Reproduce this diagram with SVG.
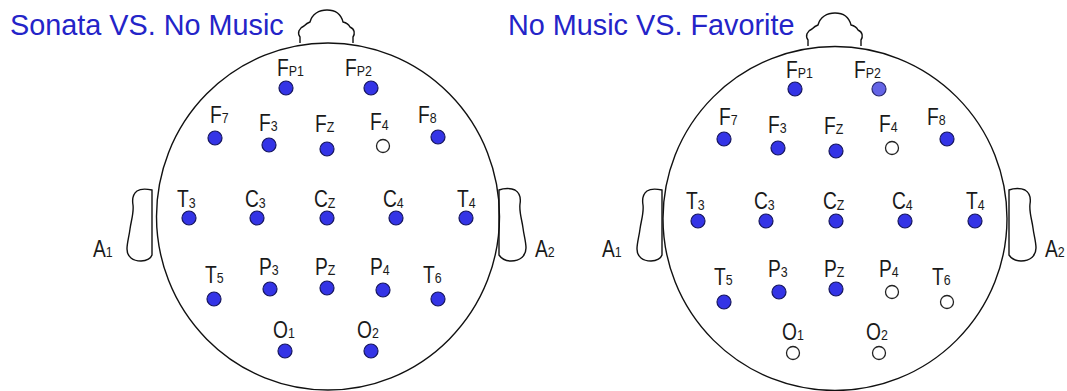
<svg xmlns="http://www.w3.org/2000/svg" width="1067" height="391" viewBox="0 0 1067 391">
<style>
.title{font-family:"Liberation Sans",Arial,sans-serif;font-size:28.8px;fill:#2424c8}
.head{fill:none;stroke:#111;stroke-width:1.4}
.lb{font-family:"Liberation Sans",Arial,sans-serif;font-size:24px;fill:#1a1a1a}
.sub{font-size:15.5px}
.on{fill:#3434e6;stroke:#16165e;stroke-width:1.2}
.lt{fill:#6464e6;stroke:#2a2a70;stroke-width:1.2}
.off{fill:#fff;stroke:#222;stroke-width:1.3}
</style>
<defs>
<path id="nose" class="head" d="M0,33 L0,27 C-3,23 -1,18 4,16 C6,14 7,13 10,12 C12,4 19,0 27,0 C35,0 41,4 43,12 C47,13 49,15 50,17 C55,19 55,24 53,27 L53,33"/>
<path id="earL" class="head" d="M25,0 C20,-1 13,-1 10,1 C6,4 5,9 6,15 C7,23 4,31 3,39 C2,47 0,53 0,59 C0,67 6,71 14,71 C20,71 24,68 25,65 Z"/>
<path id="earR" class="head" d="M0,0 C5,-2 12,-2 16,0 C21,3 22,8 21,14 C20,22 23,30 24,38 C25,46 27,52 27,58 C27,66 21,71 12,71 C6,71 2,68 0,65 Z"/>
</defs>

<text id="title-left" class="title" x="10" y="35">Sonata VS. No Music</text>
<text id="title-right" class="title" x="508" y="35">No Music VS. Favorite</text>

<g id="head-left">
<ellipse class="head" cx="328" cy="216.5" rx="171.5" ry="173.5"/>
<use href="#nose" x="300" y="10"/>
<use href="#earL" x="127" y="190"/>
<use href="#earR" x="499" y="190"/>
<text class="lb" transform="translate(93,257) scale(0.8,1)">A<tspan class="sub">1</tspan></text>
<text class="lb" transform="translate(535,257) scale(0.8,1)">A<tspan class="sub">2</tspan></text>
</g>

<g id="head-right">
<circle class="head" cx="835" cy="218.5" r="172"/>
<use href="#nose" x="808" y="13"/>
<use href="#earL" x="637" y="190"/>
<use href="#earR" x="1009" y="190"/>
<text class="lb" transform="translate(602,257) scale(0.8,1)">A<tspan class="sub">1</tspan></text>
<text class="lb" transform="translate(1045,257) scale(0.8,1)">A<tspan class="sub">2</tspan></text>
</g>

<g id="connectors"></g>

<g id="left-electrodes">
<g id="L-Fp1"><text class="lb" transform="translate(277,76) scale(0.8,1)">F<tspan class="sub">P1</tspan></text><circle class="on" cx="286" cy="88" r="7"/></g>
<g id="L-Fp2"><text class="lb" transform="translate(345,76) scale(0.8,1)">F<tspan class="sub">P2</tspan></text><circle class="on" cx="371" cy="88" r="7"/></g>
<g id="L-F7"><text class="lb" transform="translate(210,123) scale(0.8,1)">F<tspan class="sub">7</tspan></text><circle class="on" cx="215" cy="138" r="7"/></g>
<g id="L-F3"><text class="lb" transform="translate(259,131) scale(0.8,1)">F<tspan class="sub">3</tspan></text><circle class="on" cx="269" cy="145" r="7"/></g>
<g id="L-Fz"><text class="lb" transform="translate(315,132) scale(0.8,1)">F<tspan class="sub">Z</tspan></text><circle class="on" cx="327" cy="149" r="7"/></g>
<g id="L-F4"><text class="lb" transform="translate(370,130) scale(0.8,1)">F<tspan class="sub">4</tspan></text><circle class="off" cx="383" cy="146" r="6.5"/></g>
<g id="L-F8"><text class="lb" transform="translate(418,123) scale(0.8,1)">F<tspan class="sub">8</tspan></text><circle class="on" cx="438" cy="137" r="7"/></g>
<g id="L-T3"><text class="lb" transform="translate(177,207) scale(0.8,1)">T<tspan class="sub" dy="1">3</tspan></text><circle class="on" cx="189" cy="218" r="7"/></g>
<g id="L-C3"><text class="lb" transform="translate(245,207) scale(0.8,1)">C<tspan class="sub" dy="1">3</tspan></text><circle class="on" cx="257" cy="218" r="7"/></g>
<g id="L-Cz"><text class="lb" transform="translate(314,207) scale(0.8,1)">C<tspan class="sub" dy="1">Z</tspan></text><circle class="on" cx="327" cy="218" r="7"/></g>
<g id="L-C4"><text class="lb" transform="translate(383,207) scale(0.8,1)">C<tspan class="sub" dy="1">4</tspan></text><circle class="on" cx="396" cy="218" r="7"/></g>
<g id="L-T4"><text class="lb" transform="translate(457,207) scale(0.8,1)">T<tspan class="sub" dy="1">4</tspan></text><circle class="on" cx="466" cy="218" r="7"/></g>
<g id="L-T5"><text class="lb" transform="translate(205,283) scale(0.8,1)">T<tspan class="sub">5</tspan></text><circle class="on" cx="214" cy="299" r="7"/></g>
<g id="L-P3"><text class="lb" transform="translate(259,275) scale(0.8,1)">P<tspan class="sub">3</tspan></text><circle class="on" cx="270" cy="289" r="7"/></g>
<g id="L-Pz"><text class="lb" transform="translate(315,275) scale(0.8,1)">P<tspan class="sub">Z</tspan></text><circle class="on" cx="327" cy="288" r="7"/></g>
<g id="L-P4"><text class="lb" transform="translate(370,275) scale(0.8,1)">P<tspan class="sub">4</tspan></text><circle class="on" cx="383" cy="290" r="7"/></g>
<g id="L-T6"><text class="lb" transform="translate(423,283) scale(0.8,1)">T<tspan class="sub">6</tspan></text><circle class="on" cx="438" cy="299" r="7"/></g>
<g id="L-O1"><text class="lb" transform="translate(273,338) scale(0.8,1)">O<tspan class="sub">1</tspan></text><circle class="on" cx="285" cy="351" r="7"/></g>
<g id="L-O2"><text class="lb" transform="translate(357,338) scale(0.8,1)">O<tspan class="sub">2</tspan></text><circle class="on" cx="371" cy="351" r="7"/></g>
</g>

<g id="right-electrodes">
<g id="R-Fp1"><text class="lb" transform="translate(786,78) scale(0.8,1)">F<tspan class="sub">P1</tspan></text><circle class="on" cx="795" cy="89" r="7"/></g>
<g id="R-Fp2"><text class="lb" transform="translate(854,78) scale(0.8,1)">F<tspan class="sub">P2</tspan></text><circle class="lt" cx="879" cy="89" r="7"/></g>
<g id="R-F7"><text class="lb" transform="translate(719,125) scale(0.8,1)">F<tspan class="sub">7</tspan></text><circle class="on" cx="724" cy="139" r="7"/></g>
<g id="R-F3"><text class="lb" transform="translate(768,133) scale(0.8,1)">F<tspan class="sub">3</tspan></text><circle class="on" cx="778" cy="148" r="7"/></g>
<g id="R-Fz"><text class="lb" transform="translate(824,134) scale(0.8,1)">F<tspan class="sub">Z</tspan></text><circle class="on" cx="836" cy="151" r="7"/></g>
<g id="R-F4"><text class="lb" transform="translate(879,132) scale(0.8,1)">F<tspan class="sub">4</tspan></text><circle class="off" cx="892" cy="148" r="6.5"/></g>
<g id="R-F8"><text class="lb" transform="translate(927,125) scale(0.8,1)">F<tspan class="sub">8</tspan></text><circle class="on" cx="947" cy="139" r="7"/></g>
<g id="R-T3"><text class="lb" transform="translate(686,209) scale(0.8,1)">T<tspan class="sub" dy="1">3</tspan></text><circle class="on" cx="698" cy="221" r="7"/></g>
<g id="R-C3"><text class="lb" transform="translate(754,209) scale(0.8,1)">C<tspan class="sub" dy="1">3</tspan></text><circle class="on" cx="766" cy="221" r="7"/></g>
<g id="R-Cz"><text class="lb" transform="translate(823,209) scale(0.8,1)">C<tspan class="sub" dy="1">Z</tspan></text><circle class="on" cx="836" cy="221" r="7"/></g>
<g id="R-C4"><text class="lb" transform="translate(892,209) scale(0.8,1)">C<tspan class="sub" dy="1">4</tspan></text><circle class="on" cx="905" cy="221" r="7"/></g>
<g id="R-T4"><text class="lb" transform="translate(966,209) scale(0.8,1)">T<tspan class="sub" dy="1">4</tspan></text><circle class="on" cx="975" cy="221" r="7"/></g>
<g id="R-T5"><text class="lb" transform="translate(714,285) scale(0.8,1)">T<tspan class="sub">5</tspan></text><circle class="on" cx="724" cy="302" r="7"/></g>
<g id="R-P3"><text class="lb" transform="translate(768,277) scale(0.8,1)">P<tspan class="sub">3</tspan></text><circle class="on" cx="779" cy="292" r="7"/></g>
<g id="R-Pz"><text class="lb" transform="translate(824,277) scale(0.8,1)">P<tspan class="sub">Z</tspan></text><circle class="on" cx="836" cy="289" r="7"/></g>
<g id="R-P4"><text class="lb" transform="translate(879,277) scale(0.8,1)">P<tspan class="sub">4</tspan></text><circle class="off" cx="892" cy="292" r="6.5"/></g>
<g id="R-T6"><text class="lb" transform="translate(932,285) scale(0.8,1)">T<tspan class="sub">6</tspan></text><circle class="off" cx="947" cy="302" r="6.5"/></g>
<g id="R-O1"><text class="lb" transform="translate(782,340) scale(0.8,1)">O<tspan class="sub">1</tspan></text><circle class="off" cx="793" cy="353" r="6.5"/></g>
<g id="R-O2"><text class="lb" transform="translate(866,340) scale(0.8,1)">O<tspan class="sub">2</tspan></text><circle class="off" cx="879" cy="353" r="6.5"/></g>
</g>
</svg>
